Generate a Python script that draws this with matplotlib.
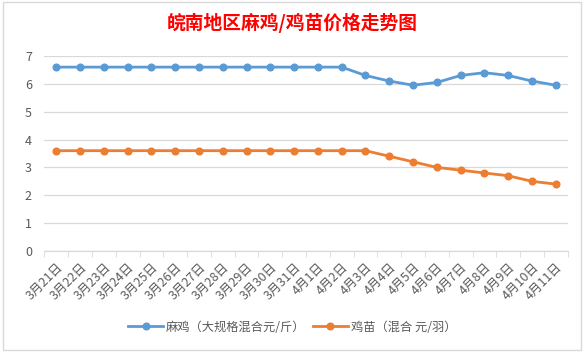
import matplotlib
matplotlib.use("Agg")
import matplotlib.pyplot as plt
from matplotlib.patches import Rectangle

plt.rcParams['font.family'] = ['Noto Sans CJK SC', 'DejaVu Sans']

dates = ["3月21日", "3月22日", "3月23日", "3月24日", "3月25日", "3月26日",
         "3月27日", "3月28日", "3月29日", "3月30日", "3月31日", "4月1日",
         "4月2日", "4月3日", "4月4日", "4月5日", "4月6日", "4月7日",
         "4月8日", "4月9日", "4月10日", "4月11日"]
maji = [6.6, 6.6, 6.6, 6.6, 6.6, 6.6, 6.6, 6.6, 6.6, 6.6, 6.6, 6.6,
        6.6, 6.3, 6.1, 5.95, 6.05, 6.3, 6.4, 6.3, 6.1, 5.95]
jimiao = [3.6, 3.6, 3.6, 3.6, 3.6, 3.6, 3.6, 3.6, 3.6, 3.6, 3.6, 3.6,
          3.6, 3.6, 3.4, 3.2, 3.0, 2.9, 2.8, 2.7, 2.5, 2.4]
yticks = [0, 1, 2, 3, 4, 5, 6, 7]

blue = "#5B9BD5"
orange = "#ED7D31"
grey_txt = "#595959"

fig = plt.figure(figsize=(5.84, 3.52), dpi=100)
ax = fig.add_axes([0.076, 0.287, 0.896, 0.554])

x = list(range(len(dates)))
ax.plot(x, maji, color=blue, lw=2.0, marker="o", ms=4.8, label="麻鸡（大规格混合元/斤）")
ax.plot(x, jimiao, color=orange, lw=2.0, marker="o", ms=4.8, label="鸡苗（混合 元/羽）")

ax.set_xlim(-0.5, len(dates) - 0.5)
ax.set_ylim(0, 7)
ax.set_yticks(yticks)
ax.yaxis.grid(True, color="#D9D9D9", lw=0.9)
ax.set_axisbelow(True)
for s in ["top", "right", "left"]:
    ax.spines[s].set_visible(False)
ax.spines["bottom"].set_color("#D9D9D9")
ax.spines["bottom"].set_linewidth(0.9)
ax.tick_params(axis="y", length=0, colors=grey_txt, labelsize=9, pad=9)

# category ticks sit between points, labels on the points
ax.set_xticks([i - 0.5 for i in range(len(dates) + 1)], minor=True)
ax.set_xticks(x)
ax.set_xticklabels(dates, rotation=45, ha="right", rotation_mode="anchor",
                   fontsize=9, color=grey_txt)
ax.tick_params(axis="x", which="major", length=0, pad=7)
ax.tick_params(axis="x", which="minor", length=4, color="#D9D9D9")

fig.text(0.5, 0.935, "皖南地区麻鸡/鸡苗价格走势图", ha="center", va="center",
         color="red", fontsize=13.5, fontweight="bold")

fig.legend(loc="center", bbox_to_anchor=(0.5, 0.071), ncol=2, frameon=False,
           fontsize=8.8, labelcolor=grey_txt, handlelength=2.9, columnspacing=0.6,
           handletextpad=0.2)

fig.patches.append(Rectangle((0.005, 0.006), 0.99, 0.988, transform=fig.transFigure,
                             fill=False, edgecolor="#D9D9D9", lw=1))

fig.savefig("out.png", dpi=100)
